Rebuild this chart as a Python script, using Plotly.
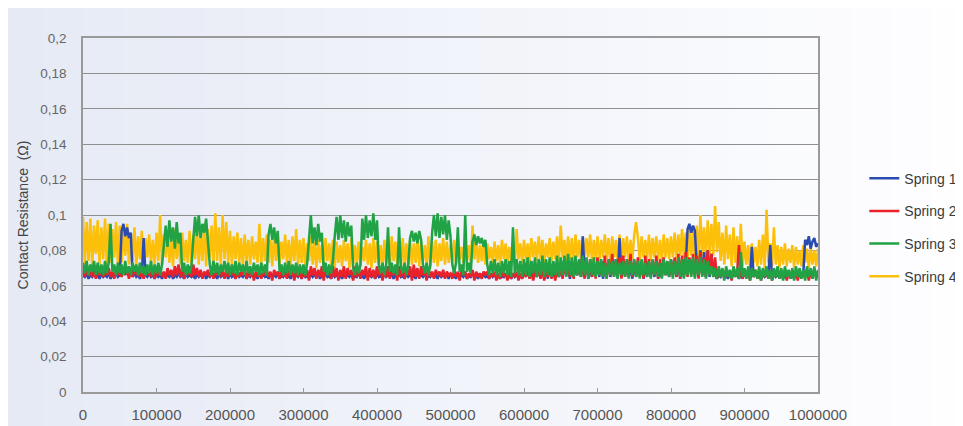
import plotly.graph_objects as go

# x positions (cycles), one reading every 2500 cycles
cycles = [i * 2500 for i in range(401)]

spring1 = [
    0.066, 0.065, 0.067, 0.064, 0.066, 0.065, 0.067, 0.065, 0.066, 0.064, 0.067, 0.065, 0.066, 0.065, 0.067, 0.064, 0.066, 0.065, 0.067, 0.065,
    0.066, 0.091, 0.095, 0.088, 0.093, 0.087, 0.090, 0.065, 0.067, 0.065, 0.066, 0.064, 0.067, 0.087, 0.066, 0.065, 0.067, 0.065, 0.066, 0.064,
    0.067, 0.065, 0.066, 0.064, 0.067, 0.065, 0.066, 0.065, 0.067, 0.064, 0.066, 0.065, 0.067, 0.065, 0.066, 0.064, 0.067, 0.065, 0.066, 0.065,
    0.066, 0.064, 0.067, 0.065, 0.066, 0.065, 0.067, 0.064, 0.066, 0.065, 0.067, 0.065, 0.066, 0.064, 0.067, 0.065, 0.066, 0.065, 0.067, 0.064,
    0.067, 0.065, 0.066, 0.064, 0.067, 0.065, 0.066, 0.065, 0.067, 0.064, 0.066, 0.065, 0.067, 0.065, 0.066, 0.064, 0.067, 0.065, 0.066, 0.065,
    0.066, 0.064, 0.067, 0.065, 0.066, 0.065, 0.067, 0.064, 0.066, 0.065, 0.067, 0.065, 0.066, 0.064, 0.067, 0.065, 0.066, 0.065, 0.067, 0.064,
    0.067, 0.065, 0.066, 0.064, 0.067, 0.065, 0.066, 0.065, 0.067, 0.064, 0.066, 0.065, 0.067, 0.065, 0.066, 0.064, 0.067, 0.065, 0.066, 0.065,
    0.066, 0.064, 0.067, 0.065, 0.066, 0.065, 0.067, 0.064, 0.066, 0.065, 0.067, 0.065, 0.066, 0.064, 0.067, 0.065, 0.066, 0.065, 0.067, 0.064,
    0.067, 0.065, 0.066, 0.064, 0.067, 0.065, 0.066, 0.065, 0.067, 0.064, 0.066, 0.065, 0.067, 0.065, 0.066, 0.064, 0.067, 0.065, 0.066, 0.065,
    0.066, 0.064, 0.067, 0.065, 0.066, 0.065, 0.067, 0.064, 0.066, 0.065, 0.067, 0.065, 0.066, 0.064, 0.067, 0.065, 0.066, 0.065, 0.067, 0.064,
    0.067, 0.065, 0.066, 0.064, 0.067, 0.065, 0.066, 0.065, 0.067, 0.064, 0.066, 0.065, 0.067, 0.065, 0.066, 0.064, 0.067, 0.065, 0.066, 0.065,
    0.066, 0.064, 0.067, 0.065, 0.066, 0.065, 0.067, 0.064, 0.066, 0.065, 0.067, 0.065, 0.066, 0.064, 0.067, 0.065, 0.066, 0.065, 0.067, 0.064,
    0.069, 0.065, 0.071, 0.066, 0.074, 0.064, 0.070, 0.065, 0.072, 0.066, 0.075, 0.065, 0.071, 0.064, 0.073, 0.065, 0.070, 0.066, 0.072, 0.065,
    0.071, 0.065, 0.073, 0.066, 0.070, 0.064, 0.072, 0.065, 0.071, 0.066, 0.074, 0.065, 0.088, 0.066, 0.072, 0.064, 0.071, 0.065, 0.073, 0.066,
    0.072, 0.065, 0.074, 0.064, 0.071, 0.066, 0.073, 0.065, 0.072, 0.066, 0.075, 0.064, 0.087, 0.065, 0.072, 0.066, 0.074, 0.065, 0.071, 0.064,
    0.073, 0.065, 0.072, 0.066, 0.074, 0.064, 0.071, 0.065, 0.073, 0.066, 0.072, 0.065, 0.074, 0.064, 0.071, 0.065, 0.073, 0.066, 0.072, 0.065,
    0.074, 0.066, 0.072, 0.065, 0.073, 0.064, 0.074, 0.065, 0.072, 0.092, 0.095, 0.090, 0.094, 0.091, 0.072, 0.065, 0.080, 0.066, 0.079, 0.065,
    0.080, 0.065, 0.078, 0.066, 0.067, 0.064, 0.066, 0.065, 0.067, 0.066, 0.066, 0.064, 0.067, 0.065, 0.066, 0.066, 0.067, 0.064, 0.066, 0.065,
    0.067, 0.065, 0.066, 0.064, 0.082, 0.065, 0.067, 0.066, 0.066, 0.064, 0.067, 0.065, 0.066, 0.066, 0.083, 0.064, 0.067, 0.065, 0.066, 0.065,
    0.067, 0.064, 0.066, 0.065, 0.067, 0.066, 0.066, 0.064, 0.067, 0.065, 0.066, 0.066, 0.067, 0.086, 0.083, 0.088, 0.081, 0.085, 0.087, 0.082,
    0.084,
]

spring2 = [
    0.069, 0.065, 0.070, 0.066, 0.068, 0.065, 0.069, 0.064, 0.070, 0.066, 0.068, 0.065, 0.069, 0.066, 0.070, 0.065, 0.068, 0.064, 0.069, 0.066,
    0.068, 0.065, 0.070, 0.066, 0.069, 0.064, 0.068, 0.065, 0.070, 0.066, 0.069, 0.065, 0.068, 0.064, 0.069, 0.066, 0.068, 0.065, 0.070, 0.064,
    0.068, 0.066, 0.069, 0.065, 0.068, 0.064, 0.070, 0.066, 0.069, 0.065, 0.071, 0.066, 0.072, 0.065, 0.070, 0.064, 0.069, 0.066, 0.071, 0.065,
    0.072, 0.066, 0.070, 0.065, 0.069, 0.064, 0.068, 0.066, 0.069, 0.065, 0.068, 0.064, 0.069, 0.066, 0.068, 0.065, 0.070, 0.064, 0.068, 0.065,
    0.069, 0.066, 0.068, 0.064, 0.069, 0.065, 0.068, 0.066, 0.070, 0.064, 0.068, 0.065, 0.069, 0.063, 0.068, 0.065, 0.069, 0.064, 0.068, 0.066,
    0.069, 0.065, 0.068, 0.063, 0.069, 0.066, 0.068, 0.064, 0.070, 0.065, 0.068, 0.064, 0.069, 0.066, 0.068, 0.063, 0.069, 0.065, 0.068, 0.064,
    0.070, 0.065, 0.069, 0.063, 0.071, 0.066, 0.070, 0.064, 0.069, 0.065, 0.071, 0.063, 0.070, 0.066, 0.069, 0.064, 0.071, 0.065, 0.070, 0.063,
    0.069, 0.065, 0.071, 0.064, 0.070, 0.066, 0.069, 0.063, 0.071, 0.065, 0.070, 0.064, 0.069, 0.066, 0.071, 0.063, 0.070, 0.065, 0.069, 0.064,
    0.071, 0.066, 0.070, 0.063, 0.069, 0.065, 0.071, 0.064, 0.070, 0.066, 0.069, 0.063, 0.071, 0.065, 0.070, 0.064, 0.069, 0.066, 0.071, 0.063,
    0.072, 0.065, 0.070, 0.064, 0.071, 0.066, 0.069, 0.063, 0.070, 0.065, 0.068, 0.064, 0.069, 0.066, 0.068, 0.065, 0.069, 0.064, 0.068, 0.066,
    0.067, 0.064, 0.069, 0.065, 0.068, 0.063, 0.069, 0.066, 0.068, 0.064, 0.067, 0.065, 0.069, 0.063, 0.068, 0.065, 0.067, 0.064, 0.068, 0.066,
    0.068, 0.064, 0.067, 0.065, 0.068, 0.063, 0.067, 0.064, 0.068, 0.065, 0.067, 0.063, 0.068, 0.064, 0.067, 0.065, 0.068, 0.063, 0.067, 0.064,
    0.068, 0.065, 0.069, 0.064, 0.068, 0.063, 0.069, 0.065, 0.070, 0.064, 0.069, 0.063, 0.068, 0.065, 0.070, 0.064, 0.069, 0.063, 0.070, 0.065,
    0.071, 0.064, 0.072, 0.066, 0.071, 0.065, 0.073, 0.064, 0.072, 0.066, 0.074, 0.065, 0.072, 0.064, 0.073, 0.066, 0.075, 0.065, 0.073, 0.064,
    0.076, 0.066, 0.074, 0.065, 0.077, 0.064, 0.075, 0.066, 0.078, 0.065, 0.074, 0.066, 0.076, 0.064, 0.077, 0.065, 0.075, 0.066, 0.078, 0.065,
    0.074, 0.066, 0.076, 0.065, 0.073, 0.064, 0.077, 0.066, 0.075, 0.065, 0.074, 0.066, 0.077, 0.064, 0.075, 0.065, 0.076, 0.066, 0.074, 0.065,
    0.075, 0.066, 0.076, 0.065, 0.078, 0.064, 0.077, 0.066, 0.079, 0.065, 0.076, 0.066, 0.078, 0.065, 0.077, 0.064, 0.079, 0.066, 0.076, 0.065,
    0.080, 0.066, 0.078, 0.065, 0.076, 0.064, 0.069, 0.065, 0.068, 0.064, 0.069, 0.065, 0.068, 0.063, 0.069, 0.065, 0.068, 0.083, 0.066, 0.064,
    0.068, 0.065, 0.069, 0.063, 0.068, 0.065, 0.069, 0.064, 0.068, 0.063, 0.069, 0.065, 0.068, 0.064, 0.069, 0.063, 0.068, 0.065, 0.069, 0.064,
    0.068, 0.065, 0.069, 0.063, 0.068, 0.064, 0.069, 0.065, 0.068, 0.063, 0.069, 0.064, 0.068, 0.065, 0.069, 0.063, 0.068, 0.064, 0.069, 0.065,
    0.068,
]

spring3 = [
    0.073, 0.067, 0.074, 0.066, 0.072, 0.068, 0.074, 0.066, 0.073, 0.067, 0.072, 0.066, 0.074, 0.067, 0.073, 0.095, 0.068, 0.072, 0.066, 0.073,
    0.067, 0.072, 0.066, 0.074, 0.067, 0.071, 0.066, 0.073, 0.068, 0.072, 0.066, 0.073, 0.067, 0.071, 0.066, 0.072, 0.067, 0.074, 0.066, 0.072,
    0.067, 0.073, 0.066, 0.072, 0.083, 0.094, 0.082, 0.097, 0.085, 0.093, 0.081, 0.096, 0.084, 0.090, 0.068, 0.073, 0.066, 0.072, 0.067, 0.071,
    0.086, 0.099, 0.088, 0.100, 0.087, 0.095, 0.090, 0.098, 0.085, 0.072, 0.066, 0.074, 0.067, 0.073, 0.066, 0.072, 0.068, 0.074, 0.067, 0.073,
    0.066, 0.072, 0.067, 0.074, 0.066, 0.073, 0.068, 0.072, 0.066, 0.074, 0.067, 0.071, 0.066, 0.073, 0.068, 0.072, 0.066, 0.073, 0.067, 0.072,
    0.066, 0.089, 0.095, 0.086, 0.093, 0.084, 0.091, 0.068, 0.072, 0.066, 0.073, 0.067, 0.074, 0.066, 0.072, 0.067, 0.073, 0.066, 0.072, 0.067,
    0.072, 0.066, 0.073, 0.087, 0.100, 0.084, 0.093, 0.083, 0.095, 0.085, 0.090, 0.068, 0.073, 0.066, 0.072, 0.067, 0.074, 0.088, 0.099, 0.086,
    0.100, 0.087, 0.097, 0.085, 0.096, 0.088, 0.094, 0.070, 0.066, 0.073, 0.067, 0.072, 0.098, 0.086, 0.100, 0.087, 0.097, 0.088, 0.101, 0.086,
    0.097, 0.072, 0.067, 0.073, 0.066, 0.072, 0.093, 0.068, 0.073, 0.067, 0.072, 0.066, 0.093, 0.071, 0.067, 0.073, 0.066, 0.072, 0.087, 0.091,
    0.085, 0.090, 0.084, 0.091, 0.086, 0.072, 0.067, 0.073, 0.066, 0.072, 0.090, 0.100, 0.088, 0.101, 0.087, 0.099, 0.089, 0.100, 0.086, 0.097,
    0.088, 0.072, 0.067, 0.073, 0.093, 0.068, 0.072, 0.066, 0.100, 0.068, 0.073, 0.067, 0.085, 0.089, 0.083, 0.088, 0.084, 0.087, 0.082, 0.086,
    0.072, 0.066, 0.074, 0.067, 0.075, 0.066, 0.073, 0.065, 0.074, 0.067, 0.075, 0.066, 0.074, 0.065, 0.093, 0.067, 0.075, 0.066, 0.074, 0.065,
    0.075, 0.066, 0.076, 0.065, 0.074, 0.067, 0.076, 0.065, 0.075, 0.066, 0.077, 0.065, 0.075, 0.066, 0.076, 0.065, 0.074, 0.066, 0.077, 0.065,
    0.076, 0.066, 0.077, 0.065, 0.078, 0.066, 0.076, 0.065, 0.077, 0.066, 0.075, 0.065, 0.077, 0.066, 0.076, 0.064, 0.075, 0.066, 0.076, 0.065,
    0.074, 0.066, 0.075, 0.065, 0.073, 0.064, 0.075, 0.066, 0.074, 0.065, 0.075, 0.064, 0.073, 0.066, 0.074, 0.065, 0.075, 0.064, 0.074, 0.066,
    0.075, 0.065, 0.074, 0.064, 0.075, 0.066, 0.073, 0.065, 0.074, 0.064, 0.075, 0.066, 0.074, 0.065, 0.073, 0.064, 0.075, 0.066, 0.074, 0.065,
    0.075, 0.064, 0.074, 0.066, 0.076, 0.065, 0.075, 0.064, 0.076, 0.066, 0.075, 0.065, 0.076, 0.064, 0.075, 0.066, 0.076, 0.065, 0.075, 0.064,
    0.074, 0.066, 0.071, 0.065, 0.070, 0.064, 0.071, 0.065, 0.070, 0.063, 0.071, 0.065, 0.069, 0.064, 0.071, 0.065, 0.070, 0.064, 0.079, 0.065,
    0.070, 0.064, 0.071, 0.063, 0.070, 0.065, 0.069, 0.064, 0.071, 0.063, 0.070, 0.065, 0.071, 0.064, 0.069, 0.063, 0.070, 0.065, 0.071, 0.064,
    0.070, 0.063, 0.071, 0.065, 0.069, 0.064, 0.070, 0.063, 0.071, 0.065, 0.070, 0.064, 0.069, 0.063, 0.071, 0.065, 0.070, 0.064, 0.071, 0.063,
    0.069,
]

spring4 = [
    0.099, 0.072, 0.096, 0.074, 0.098, 0.071, 0.094, 0.078, 0.097, 0.072, 0.093, 0.075, 0.098, 0.071, 0.095, 0.073, 0.092, 0.076, 0.096, 0.072,
    0.094, 0.073, 0.091, 0.077, 0.095, 0.072, 0.090, 0.074, 0.093, 0.071, 0.088, 0.075, 0.091, 0.072, 0.087, 0.076, 0.089, 0.073, 0.086, 0.072,
    0.090, 0.074, 0.100, 0.072, 0.089, 0.076, 0.091, 0.073, 0.087, 0.071, 0.092, 0.075, 0.088, 0.072, 0.090, 0.074, 0.086, 0.073, 0.091, 0.072,
    0.089, 0.075, 0.093, 0.072, 0.090, 0.074, 0.095, 0.071, 0.092, 0.076, 0.094, 0.072, 0.101, 0.074, 0.093, 0.072, 0.100, 0.075, 0.096, 0.073,
    0.091, 0.072, 0.088, 0.075, 0.090, 0.073, 0.087, 0.071, 0.089, 0.074, 0.086, 0.072, 0.088, 0.075, 0.085, 0.073, 0.095, 0.072, 0.087, 0.074,
    0.089, 0.073, 0.086, 0.071, 0.090, 0.074, 0.087, 0.072, 0.085, 0.075, 0.089, 0.073, 0.086, 0.071, 0.088, 0.074, 0.092, 0.072, 0.086, 0.073,
    0.087, 0.071, 0.084, 0.074, 0.088, 0.072, 0.085, 0.070, 0.086, 0.073, 0.083, 0.071, 0.087, 0.074, 0.084, 0.072, 0.086, 0.070, 0.085, 0.073,
    0.083, 0.071, 0.086, 0.074, 0.084, 0.070, 0.087, 0.072, 0.083, 0.073, 0.085, 0.071, 0.082, 0.074, 0.086, 0.072, 0.084, 0.070, 0.087, 0.073,
    0.085, 0.072, 0.083, 0.070, 0.086, 0.073, 0.084, 0.071, 0.088, 0.074, 0.085, 0.072, 0.083, 0.070, 0.087, 0.073, 0.084, 0.071, 0.086, 0.072,
    0.084, 0.073, 0.087, 0.071, 0.085, 0.074, 0.083, 0.072, 0.088, 0.070, 0.085, 0.073, 0.086, 0.071, 0.084, 0.074, 0.087, 0.072, 0.085, 0.073,
    0.083, 0.074, 0.086, 0.072, 0.084, 0.075, 0.082, 0.073, 0.085, 0.074, 0.083, 0.072, 0.094, 0.075, 0.085, 0.073, 0.083, 0.074, 0.086, 0.072,
    0.084, 0.075, 0.082, 0.073, 0.085, 0.074, 0.083, 0.072, 0.086, 0.075, 0.084, 0.073, 0.082, 0.074, 0.085, 0.072, 0.092, 0.075, 0.084, 0.073,
    0.086, 0.075, 0.084, 0.073, 0.087, 0.076, 0.085, 0.074, 0.088, 0.075, 0.086, 0.073, 0.084, 0.076, 0.087, 0.074, 0.085, 0.075, 0.088, 0.074,
    0.094, 0.076, 0.086, 0.074, 0.088, 0.075, 0.087, 0.073, 0.089, 0.076, 0.086, 0.074, 0.088, 0.075, 0.087, 0.076, 0.089, 0.074, 0.086, 0.075,
    0.088, 0.074, 0.086, 0.076, 0.089, 0.075, 0.087, 0.073, 0.088, 0.076, 0.086, 0.074, 0.089, 0.075, 0.087, 0.076, 0.088, 0.074, 0.086, 0.075,
    0.089, 0.096, 0.087, 0.074, 0.088, 0.076, 0.086, 0.075, 0.089, 0.074, 0.087, 0.076, 0.088, 0.075, 0.086, 0.074, 0.089, 0.076, 0.087, 0.075,
    0.088, 0.076, 0.090, 0.075, 0.089, 0.077, 0.092, 0.076, 0.090, 0.075, 0.093, 0.077, 0.091, 0.076, 0.094, 0.075, 0.100, 0.077, 0.093, 0.076,
    0.097, 0.078, 0.095, 0.077, 0.105, 0.079, 0.096, 0.074, 0.090, 0.072, 0.094, 0.075, 0.089, 0.071, 0.093, 0.073, 0.088, 0.072, 0.095, 0.071,
    0.085, 0.072, 0.083, 0.070, 0.084, 0.073, 0.082, 0.071, 0.086, 0.072, 0.089, 0.070, 0.103, 0.073, 0.084, 0.071, 0.093, 0.072, 0.083, 0.070,
    0.082, 0.072, 0.084, 0.071, 0.081, 0.073, 0.083, 0.070, 0.082, 0.072, 0.080, 0.071, 0.083, 0.073, 0.081, 0.070, 0.082, 0.072, 0.080, 0.071,
    0.081,
]

series_names = ["Spring 1", "Spring 2", "Spring 3", "Spring 4"]
series_values = [spring1, spring2, spring3, spring4]
series_colors = ["#2c4bb0", "#e8212b", "#21a244", "#fcbf0a"]
draw_order = [3, 0, 1, 2]

y_ticks = [0, 0.02, 0.04, 0.06, 0.08, 0.1, 0.12, 0.14, 0.16, 0.18, 0.2]
x_ticks = [0, 100000, 200000, 300000, 400000, 500000, 600000, 700000, 800000, 900000, 1000000]

fig = go.Figure()
for k in draw_order:
    fig.add_trace(go.Scatter(
        x=cycles, y=series_values[k], mode="lines", name=series_names[k],
        line=dict(color=series_colors[k], width=2.5),
        legendrank=k + 1, legendgroup=series_names[k],
    ))

# soft left-to-right background shading (bluish grey fading to white)
n_strips = 24
x_lo, x_hi = -0.11, 1.21
for j in range(n_strips):
    t = j / (n_strips - 1)
    r = int(round(230 + (254 - 230) * t))
    g = int(round(234 + (254 - 234) * t))
    b = int(round(245 + (255 - 245) * t))
    fig.add_shape(
        type="rect", xref="paper", yref="paper", layer="below",
        x0=x_lo + (x_hi - x_lo) * j / n_strips, x1=x_lo + (x_hi - x_lo) * (j + 1) / n_strips + 0.002,
        y0=-0.11, y1=1.09, line=dict(width=0), fillcolor=f"rgb({r},{g},{b})",
    )

fig.update_layout(
    width=955, height=418,
    margin=dict(l=75, r=145, t=30, b=34, autoexpand=False),
    paper_bgcolor="#ffffff", plot_bgcolor="rgba(0,0,0,0)",
    separators=", ",
    font=dict(family="Liberation Sans", size=13, color="#555555"),
    showlegend=True,
    legend=dict(x=1.063, y=0.648, xanchor="left", yanchor="top",
                bgcolor="rgba(0,0,0,0)", tracegroupgap=11.5, itemwidth=30,
                borderwidth=0,
                font=dict(size=14, color="#3a3a3a")),
)
fig.update_xaxes(
    range=[0, 1000000], tickvals=x_ticks, tickformat="d",
    showgrid=False, zeroline=False,
    showline=True, linecolor="#9a9a9a", linewidth=1.5, mirror=True,
    ticks="inside", ticklen=4, tickcolor="#9a9a9a",
    ticklabelstandoff=8,
    tickfont=dict(size=15, color="#555555"),
)
fig.update_yaxes(
    range=[0, 0.2], tickvals=y_ticks, tickformat="~g",
    showgrid=True, gridcolor="#8f8f8f", gridwidth=1.2, zeroline=False,
    showline=True, linecolor="#9a9a9a", linewidth=1.5, mirror=True,
    ticks="", ticklabelstandoff=12,
    tickfont=dict(size=13.5, color="#666666"),
    title=dict(text="Contact Resistance  (Ω)", font=dict(size=14, color="#444444"), standoff=8),
)

fig.write_html("out.html")
